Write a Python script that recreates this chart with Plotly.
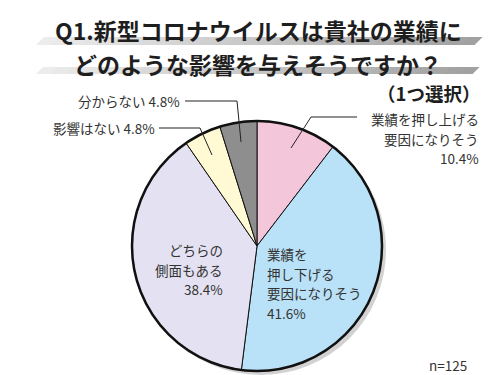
import plotly.graph_objects as go

categories = ["業績を押し上げる要因になりそう", "業績を押し下げる要因になりそう",
              "どちらの側面もある", "影響はない", "分からない"]
values = [10.4, 41.6, 38.4, 4.8, 4.8]
colors = ["#F4C6D9", "#B9E1F7", "#E4E2F2", "#FFFAD4", "#8E8E8E"]
n_resp = 125

W, H = 500, 375
FONT = "Noto Sans CJK JP"

def px(x):
    return x / W

def py(y):
    return 1 - y / H

cx, cy, r = 249, 238, 125

fig = go.Figure()
fig.add_trace(go.Pie(
    labels=categories, values=values, sort=False, direction="clockwise", rotation=0,
    marker=dict(colors=colors, line=dict(color="#111", width=1)),
    textinfo="none", hoverinfo="label+percent", showlegend=False,
    domain=dict(x=[px(cx - r), px(cx + r)], y=[py(cy + r), py(cy - r)]),
))

shapes = []
# shadow
shapes.append(dict(type="circle", xref="paper", yref="paper", layer="below",
                   x0=px(cx - r + 4), x1=px(cx + r + 4), y0=py(cy + r + 4), y1=py(cy - r + 4),
                   fillcolor="#D2D2D2", line=dict(width=0)))
# outer border
shapes.append(dict(type="circle", xref="paper", yref="paper", layer="above",
                   x0=px(cx - r), x1=px(cx + r), y0=py(cy + r), y1=py(cy - r),
                   line=dict(color="#111", width=2.5)))

# gradient bands behind title lines
def band(x0, x1, ytop, ybot, steps=30):
    out = []
    slant = ybot - ytop
    for i in range(steps):
        a = x0 + (x1 - x0) * i / steps
        b = x0 + (x1 - x0) * (i + 1) / steps + 0.6
        t = i / (steps - 1)
        g = int(236 - t * 75)
        col = f"rgb({g},{g},{g})"
        path = (f"M {px(a + slant)},{py(ytop)} L {px(b + slant)},{py(ytop)} "
                f"L {px(b)},{py(ybot)} L {px(a)},{py(ybot)} Z")
        out.append(dict(type="path", xref="paper", yref="paper", layer="below",
                        path=path, fillcolor=col, line=dict(width=0)))
    return out

shapes += band(28, 466, 29, 37)
shapes += band(28, 464, 59, 66)

# leader lines
def seg(x0, y0, x1, y1):
    return dict(type="line", xref="paper", yref="paper", layer="above",
                x0=px(x0), y0=py(y0), x1=px(x1), y1=py(y1),
                line=dict(color="#222", width=1))

shapes += [seg(177, 93, 229, 93), seg(229, 93, 233, 134)]
shapes += [seg(151, 120, 192, 120), seg(192, 120, 204, 147)]
shapes += [seg(349, 109, 303, 109), seg(303, 109, 283, 140)]

fig.update_layout(shapes=shapes)

ann = []
def text(x, y, s, size=13.5, xanchor="left", color="#333333"):
    ann.append(dict(xref="paper", yref="paper", x=px(x), y=py(y), text=s,
                    showarrow=False, xanchor=xanchor, yanchor="middle", borderpad=0,
                    font=dict(family=FONT, size=size, color=color)))

def lines(x, y0, step, parts, xanchor):
    for i, s in enumerate(parts):
        text(x, y0 + i * step, s, xanchor=xanchor)

text(250, 21.5, "<b>Q1.新型コロナウイルスは貴社の業績に</b>", size=23, xanchor="center", color="#1e1e1e")
text(250, 55.5, "<b>どのような影響を与えそうですか？</b>", size=23, xanchor="center", color="#1e1e1e")
text(473, 85, "<b>（1つ選択）</b>", size=18.5, xanchor="right", color="#1e1e1e")

text(173, 93, f"{categories[4]} {values[4]}%", xanchor="right")
text(148, 120, f"{categories[3]} {values[3]}%", xanchor="right")
STEP = 19.7
lines(472, 111, STEP, ["業績を押し上げる", "要因になりそう", f"{values[0]}%"], "right")
lines(216, 242, STEP, ["どちらの", "側面もある", f"{values[2]}%"], "right")
lines(258, 246, STEP, ["業績を", "押し下げる", "要因になりそう", f"{values[1]}%"], "left")
text(460, 357, f"n={n_resp}", xanchor="right")

fig.update_layout(annotations=ann, width=W, height=H,
                  margin=dict(l=0, r=0, t=0, b=0),
                  paper_bgcolor="white", plot_bgcolor="white",
                  font=dict(family=FONT))

fig.write_html("out.html")
